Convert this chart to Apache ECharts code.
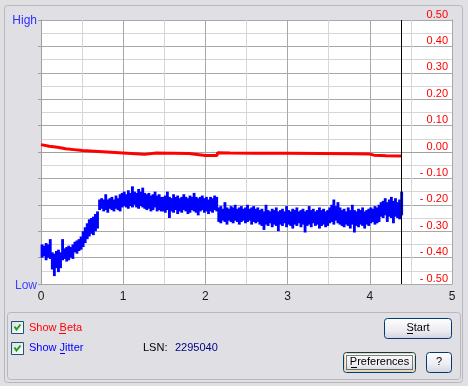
<!DOCTYPE html>
<html><head><meta charset="utf-8">
<script src="https://cdn.jsdelivr.net/npm/echarts@6/dist/echarts.min.js"></script>
<style>html,body{margin:0;padding:0;background:#e0dfe3;}#c{width:468px;height:386px;}</style>
</head><body><div id="c"></div>
<script>
// ---- data ----
var xTicks = [0, 1, 2, 3, 4, 5];
var yTicks = [0.5, 0.4, 0.3, 0.2, 0.1, 0, -0.1, -0.2, -0.3, -0.4, -0.5];
var jitStep = 0.025; // sample spacing (position units)
var jitHi = [
 -0.350,-0.355,-0.345,-0.350,-0.330,
 -0.380,-0.385,-0.375,-0.370,-0.380,
 -0.330,-0.365,-0.360,-0.355,-0.360,-0.350,
 -0.340,-0.335,-0.330,-0.320,
 -0.300,-0.285,-0.270,-0.255,-0.250,-0.245,-0.235,-0.225,
 -0.180,-0.175,-0.180,-0.160,-0.180,-0.175,-0.170,-0.180,-0.165,-0.175,-0.160,
 -0.155,-0.150,-0.160,-0.145,-0.155,-0.130,-0.150,-0.155,-0.140,-0.150,-0.135,-0.155,
 -0.160,-0.155,-0.165,-0.160,-0.150,-0.165,-0.160,-0.170,
 -0.170,-0.165,-0.150,-0.170,-0.175,-0.160,-0.170,-0.165,-0.175,-0.170,
 -0.160,-0.170,-0.175,-0.165,-0.170,-0.155,-0.170,-0.175,-0.170,-0.165,
 -0.175,-0.170,-0.180,-0.170,-0.175,-0.165,-0.170,
 -0.210,-0.205,-0.215,-0.190,-0.210,-0.215,-0.205,-0.210,-0.200,-0.215,
 -0.210,-0.205,-0.215,-0.210,-0.200,-0.215,-0.210,-0.205,-0.215,-0.210,
 -0.220,-0.215,-0.225,-0.200,-0.220,-0.225,-0.215,-0.220,-0.210,-0.225,
 -0.220,-0.215,-0.225,-0.205,-0.220,-0.225,-0.215,-0.220,-0.210,-0.225,
 -0.220,-0.215,-0.225,-0.220,-0.205,-0.220,-0.215,-0.225,-0.220,-0.210,
 -0.220,-0.215,-0.225,-0.220,
 -0.210,-0.200,-0.180,-0.205,-0.190,-0.210,
 -0.220,-0.215,-0.225,-0.210,-0.220,-0.200,-0.220,-0.225,-0.215,-0.220,
 -0.210,-0.225,-0.220,-0.215,
 -0.210,-0.215,-0.205,-0.210,-0.200,
 -0.190,-0.185,-0.175,-0.190,-0.180,-0.170,-0.185,-0.175,-0.190,-0.180,
 -0.150
];
var jitLo = [
 -0.400,-0.395,-0.410,-0.400,-0.405,
 -0.445,-0.470,-0.440,-0.455,-0.440,
 -0.410,-0.405,-0.415,-0.410,-0.400,-0.405,
 -0.380,-0.385,-0.375,-0.370,
 -0.360,-0.345,-0.330,-0.320,-0.310,-0.315,-0.300,-0.290,
 -0.220,-0.215,-0.225,-0.220,-0.230,-0.215,-0.220,-0.225,-0.215,-0.220,-0.225,
 -0.210,-0.205,-0.210,-0.215,-0.205,-0.210,-0.200,-0.210,-0.215,-0.205,-0.210,-0.215,
 -0.220,-0.215,-0.225,-0.220,-0.210,-0.225,-0.220,-0.225,
 -0.225,-0.230,-0.220,-0.250,-0.225,-0.230,-0.220,-0.235,-0.225,-0.230,
 -0.220,-0.225,-0.235,-0.230,-0.220,-0.225,-0.230,-0.240,-0.225,-0.220,
 -0.230,-0.225,-0.235,-0.225,-0.230,-0.220,-0.225,
 -0.265,-0.270,-0.260,-0.265,-0.275,-0.260,-0.265,-0.270,-0.260,-0.265,
 -0.275,-0.265,-0.260,-0.270,-0.265,-0.260,-0.275,-0.265,-0.270,-0.265,
 -0.275,-0.280,-0.295,-0.275,-0.280,-0.270,-0.285,-0.275,-0.280,-0.300,
 -0.275,-0.280,-0.270,-0.285,-0.275,-0.280,-0.290,-0.275,-0.280,-0.270,
 -0.285,-0.275,-0.305,-0.280,-0.275,-0.285,-0.270,-0.280,-0.275,-0.290,
 -0.280,-0.275,-0.285,-0.280,
 -0.270,-0.265,-0.275,-0.260,-0.270,-0.275,
 -0.280,-0.285,-0.275,-0.280,-0.290,-0.275,-0.305,-0.280,-0.285,-0.275,
 -0.280,-0.290,-0.275,-0.280,
 -0.270,-0.265,-0.275,-0.270,-0.265,
 -0.245,-0.250,-0.240,-0.265,-0.245,-0.250,-0.270,-0.245,-0.250,-0.255,
 -0.240
];
var betaX = [0, 0.1, 0.2, 0.3, 0.4, 0.5, 0.6, 0.7, 0.8, 0.9, 1.0, 1.1, 1.2, 1.26, 1.27, 1.4, 1.6, 1.8, 1.82, 2.0, 2.14, 2.15, 2.3, 2.6, 3.0, 3.4, 3.8, 4.0, 4.05, 4.2, 4.38];
var betaY = [0.028, 0.022, 0.018, 0.012, 0.009, 0.006, 0.004, 0.002, 0.0, -0.002, -0.004, -0.006, -0.008, -0.009, -0.002, -0.004, -0.005, -0.006, -0.012, -0.013, -0.013, -0.003, -0.004, -0.005, -0.005, -0.006, -0.007, -0.008, -0.012, -0.014, -0.015];
var cursorX = [4.385];
var lsnValue = '2295040';

// ---- build ----
var jitData = [];
for (var i = 0; i < jitHi.length; i++) jitData.push([i * jitStep, jitLo[i], jitHi[i]]);
var betaData = betaX.map(function (x, i) { return [x, betaY[i]]; });

var FONT = '"Liberation Sans", Arial, sans-serif';
function fmtRight(v) {
  var r = Math.round(v * 100) / 100;
  if (r < 0) return '- ' + Math.abs(r).toFixed(2);
  return Math.abs(r).toFixed(2);
}
function txt(t, x, y, color, size, align, vAlign) {
  return { type: 'text', z: 10, style: { text: t, x: x, y: y, fill: color, font: (size || 11) + 'px ' + FONT,
    textAlign: align || 'left', align: align || 'left', textVerticalAlign: vAlign || 'middle', verticalAlign: vAlign || 'middle' } };
}
function uline(x1, x2, y, color) {
  return { type: 'line', z: 10, shape: { x1: x1, y1: y + 0.5, x2: x2, y2: y + 0.5 }, style: { stroke: color, lineWidth: 1 } };
}
function checkbox(x, y) {
  return [
    { type: 'rect', z: 10, shape: { x: x + 0.5, y: y + 0.5, width: 12, height: 12 },
      style: { stroke: '#1c5180', lineWidth: 1, fill: { type: 'linear', x: 0, y: 0, x2: 1, y2: 1, colorStops: [{ offset: 0, color: '#dcdcd7' }, { offset: 1, color: '#ffffff' }] } } },
    { type: 'polyline', z: 11, shape: { points: [[x + 3.5, y + 5.5], [x + 5.5, y + 8.5], [x + 9.5, y + 3.5]] },
      style: { stroke: '#21a121', lineWidth: 2, fill: null } }
  ];
}
function button(x, y, w, h, focused) {
  var els = [
    { type: 'rect', z: 10, shape: { x: x + 0.5, y: y + 0.5, width: w - 1, height: h - 1, r: 3 },
      style: { stroke: '#003c74', lineWidth: 1, fill: { type: 'linear', x: 0, y: 0, x2: 0, y2: 1, colorStops: [{ offset: 0, color: '#ffffff' }, { offset: 0.6, color: '#ececf2' }, { offset: 1, color: '#d2d2de' }] } } }
  ];
  if (focused) {
    els.push({ type: 'rect', z: 11, shape: { x: x + 1.5, y: y + 1.5, width: w - 3, height: h - 3, r: 2 }, style: { stroke: '#f0d890', lineWidth: 1, fill: null } });
    els.push({ type: 'rect', z: 11, shape: { x: x + 3.5, y: y + 3.5, width: w - 7, height: h - 7 }, style: { stroke: '#000', lineWidth: 1, lineDash: [1, 1], fill: null } });
  }
  return els;
}

var graphics = [];
graphics.push({ type: 'rect', z: 1, shape: { x: 4.5, y: 5.5, width: 458, height: 377, r: 3 }, style: { stroke: '#b8b7bd', lineWidth: 1, fill: null } });
graphics.push({ type: 'rect', z: 1, shape: { x: 7.5, y: 312.5, width: 453, height: 67, r: 3 }, style: { stroke: '#b8b7bd', lineWidth: 1, fill: null } });
graphics.push(txt('High', 37, 21, '#3030ff', 12, 'right'));
graphics.push(txt('Low', 37, 286, '#4040ff', 12, 'right'));
graphics = graphics.concat(checkbox(11, 321), checkbox(11, 342));
graphics.push(txt('Show Beta', 29, 328, '#ff0000', 11));
graphics.push(uline(59, 66, 333, '#ff0000'));
graphics.push(txt('Show Jitter', 29, 348, '#0000ff', 11));
graphics.push(uline(60, 65, 353, '#0000ff'));
graphics.push(txt('LSN:', 143, 348, '#000000', 11));
graphics.push(txt(lsnValue, 175, 348, '#000080', 11));
graphics = graphics.concat(button(384, 318, 68, 21, false));
graphics.push(txt('Start', 418, 328, '#000', 11, 'center'));
graphics.push(uline(407, 413, 333, '#000'));
graphics = graphics.concat(button(343, 352, 73, 21, true));
graphics.push(txt('Preferences', 379.5, 362, '#000', 11, 'center'));
graphics.push(uline(351, 357, 367, '#000'));
graphics = graphics.concat(button(426, 352, 26, 21, false));
graphics.push(txt('?', 439, 362, '#000', 11, 'center'));

var chart = echarts.init(document.getElementById('c'), null, { renderer: 'canvas' });
chart.setOption({
  animation: false,
  backgroundColor: '#e0dfe3',
  textStyle: { fontFamily: FONT },
  grid: { left: 41, top: 20, width: 411, height: 264, show: true, backgroundColor: '#ffffff', borderWidth: 0 },
  xAxis: {
    type: 'value', min: xTicks[0], max: xTicks[xTicks.length - 1], interval: 1,
    axisLine: { show: true, lineStyle: { color: '#a0a0a0' } },
    axisTick: { show: false },
    minorTick: { show: false, splitNumber: 2 },
    axisLabel: { color: '#1a1a1a', fontSize: 12, margin: 7, fontFamily: FONT },
    splitLine: { show: true, lineStyle: { color: '#a8a8a8', width: 1 } },
    minorSplitLine: { show: true, lineStyle: { color: '#d6d6d6', width: 1 } }
  },
  yAxis: [{
    type: 'value', position: 'left', min: yTicks[yTicks.length - 1], max: yTicks[0], interval: 0.1,
    axisLine: { show: true, lineStyle: { color: '#a0a0a0' } },
    axisTick: { show: true, length: 3, lineStyle: { color: '#a0a0a0' } },
    minorTick: { show: false, splitNumber: 2 },
    axisLabel: { show: false },
    splitLine: { show: true, lineStyle: { color: '#a8a8a8', width: 1 } },
    minorSplitLine: { show: true, lineStyle: { color: '#d6d6d6', width: 1 } }
  }, {
    type: 'value', position: 'right', min: yTicks[yTicks.length - 1], max: yTicks[0], interval: 0.1,
    axisLine: { show: true, lineStyle: { color: '#a8a8a8' } },
    axisTick: { show: false },
    splitLine: { show: false },
    axisLabel: { inside: true, margin: 4, color: '#ff0000', fontSize: 11, fontFamily: FONT, verticalAlign: 'bottom', lineHeight: 11, formatter: fmtRight }
  }],
  series: [{
    type: 'custom', name: 'Jitter', yAxisIndex: 0,
    data: jitData,
    encode: { x: 0, y: [1, 2] },
    renderItem: function (params, api) {
      var top = api.coord([api.value(0), api.value(2)]);
      var bot = api.coord([api.value(0), api.value(1)]);
      var w = api.size([jitStep, 0])[0];
      return { type: 'rect', shape: { x: top[0] - 0.4, y: top[1], width: w + 0.8, height: bot[1] - top[1] },
        style: { fill: '#0000ff', stroke: null } };
    },
    silent: true
  }, {
    type: 'line', name: 'Beta', yAxisIndex: 0,
    data: betaData, showSymbol: false, symbol: 'none',
    lineStyle: { color: '#ff0000', width: 3 },
    silent: true,
    markLine: {
      silent: true, symbol: ['none', 'none'], label: { show: false },
      lineStyle: { color: '#000000', width: 1, type: 'solid' },
      data: cursorX.map(function (x) { return { xAxis: x }; })
    }
  }],
  graphic: graphics
});
</script>
</body></html>
